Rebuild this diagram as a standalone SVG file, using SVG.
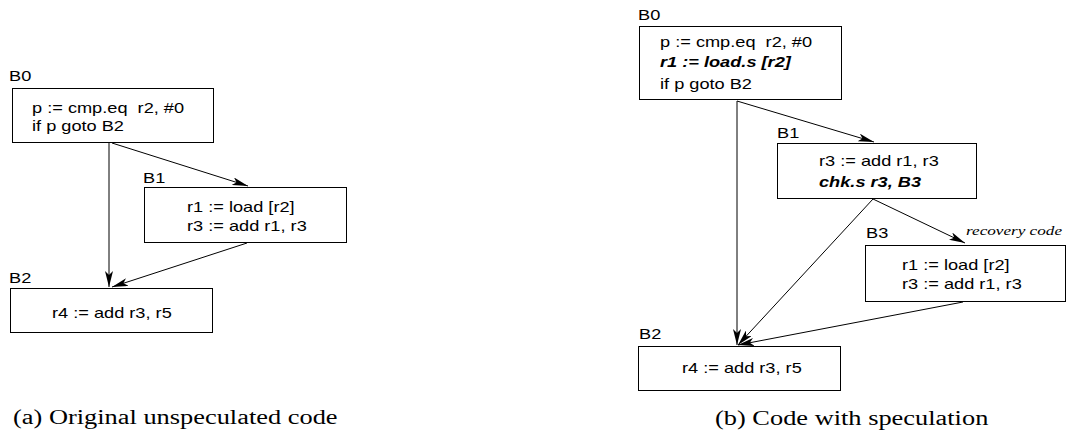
<svg xmlns="http://www.w3.org/2000/svg" width="1066" height="432" viewBox="0 0 1066 432">
<style>
.box{fill:#fff;stroke:#000;stroke-width:1}
.t{font-family:"Liberation Sans",Arial,sans-serif;font-size:14px;fill:#000}
.b{font-weight:bold;font-style:italic}
.cap{font-family:"Liberation Serif","Times New Roman",serif;font-size:20px;fill:#000}
.rc{font-family:"Liberation Serif","Times New Roman",serif;font-size:13.2px;font-style:italic;fill:#000}
.e{fill:none;stroke:#000;stroke-width:1;marker-end:url(#ah)}
</style>
<defs>
<marker id="ah" viewBox="0 0 16 8" refX="16" refY="4" markerWidth="16" markerHeight="8" markerUnits="userSpaceOnUse" orient="auto">
<path d="M0,0 L16,4 L0,8 L4,4 Z" fill="#000"/>
</marker>
</defs>
<g id="connectors">
<line class="e" x1="109" y1="143" x2="109" y2="287"/>
<line class="e" x1="112" y1="143" x2="248" y2="186"/>
<line class="e" x1="247" y1="243" x2="112" y2="287"/>
<line class="e" x1="737" y1="101" x2="737" y2="345"/>
<line class="e" x1="737" y1="101" x2="874" y2="142"/>
<line class="e" x1="873" y1="199" x2="965" y2="243"/>
<line class="e" x1="873" y1="199" x2="738" y2="345"/>
<line class="e" x1="963" y1="302" x2="738" y2="345"/>
</g>
<g id="a-B0">
<text class="t" transform="matrix(1.3 0 0 1 9 81)">B0</text>
<rect class="box" x="12.5" y="88.5" width="201" height="54"/>
<text class="t" transform="matrix(1.3 0 0 1 32 113)" xml:space="preserve">p := cmp.eq  r2, #0</text>
<text class="t" transform="matrix(1.3 0 0 1 32 131)">if p goto B2</text>
</g>
<g id="a-B1">
<text class="t" transform="matrix(1.3 0 0 1 143 183)">B1</text>
<rect class="box" x="144.5" y="187.5" width="202" height="55"/>
<text class="t" transform="matrix(1.3 0 0 1 187 212)">r1 := load [r2]</text>
<text class="t" transform="matrix(1.3 0 0 1 187 231)">r3 := add r1, r3</text>
</g>
<g id="a-B2">
<text class="t" transform="matrix(1.3 0 0 1 9 283)">B2</text>
<rect class="box" x="10.5" y="288.5" width="202" height="44"/>
<text class="t" transform="matrix(1.3 0 0 1 52 318)">r4 := add r3, r5</text>
</g>
<g id="b-B0">
<text class="t" transform="matrix(1.3 0 0 1 638 20)">B0</text>
<rect class="box" x="639.5" y="26.5" width="202" height="73"/>
<text class="t" transform="matrix(1.3 0 0 1 660 47)" xml:space="preserve">p := cmp.eq  r2, #0</text>
<text class="t b" transform="matrix(1.3 0 0 1 660 67)">r1 := load.s [r2]</text>
<text class="t" transform="matrix(1.3 0 0 1 660 89)">if p goto B2</text>
</g>
<g id="b-B1">
<text class="t" transform="matrix(1.3 0 0 1 777 138)">B1</text>
<rect class="box" x="777.5" y="143.5" width="199" height="55"/>
<text class="t" transform="matrix(1.3 0 0 1 819 166)">r3 := add r1, r3</text>
<text class="t b" transform="matrix(1.3 0 0 1 819 187)">chk.s r3, B3</text>
</g>
<g id="b-B3">
<text class="t" transform="matrix(1.3 0 0 1 866 238)">B3</text>
<text class="rc" transform="matrix(1.3 0 0 1 966 235)">recovery code</text>
<rect class="box" x="865.5" y="245.5" width="200" height="56"/>
<text class="t" transform="matrix(1.3 0 0 1 902 270)">r1 := load [r2]</text>
<text class="t" transform="matrix(1.3 0 0 1 902 289)">r3 := add r1, r3</text>
</g>
<g id="b-B2">
<text class="t" transform="matrix(1.3 0 0 1 639 339)">B2</text>
<rect class="box" x="638.5" y="346.5" width="202" height="44"/>
<text class="t" transform="matrix(1.3 0 0 1 682 373)">r4 := add r3, r5</text>
</g>
<g id="captions">
<text class="cap" transform="matrix(1.32 0 0 1 13 424)">(a) Original unspeculated code</text>
<text class="cap" transform="matrix(1.32 0 0 1 715 425)">(b) Code with speculation</text>
</g>
</svg>
